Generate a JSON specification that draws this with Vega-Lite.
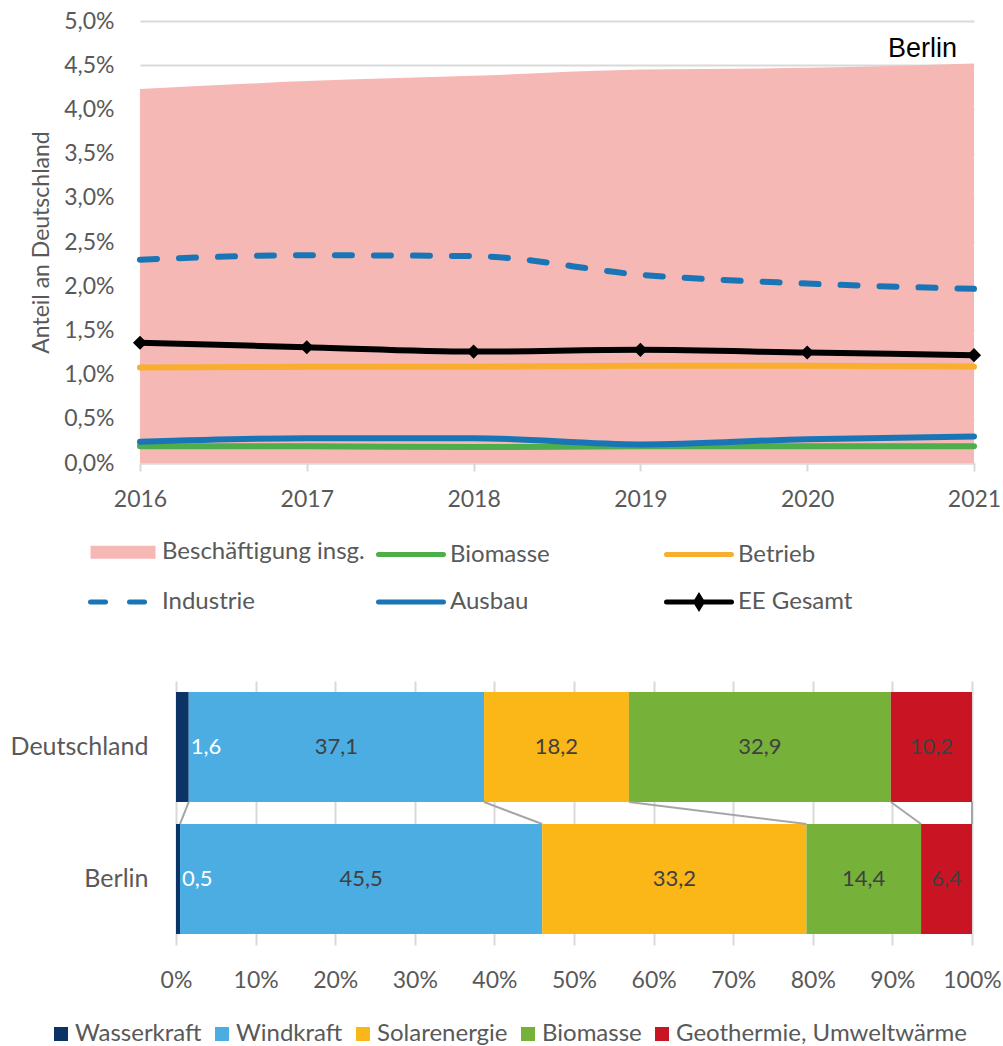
{
  "$schema": "https://vega.github.io/schema/vega-lite/v6.json",
  "background": "white",
  "padding": {"left": 10, "top": 10, "right": 0, "bottom": 0},
  "spacing": 63,
  "resolve": {"scale": {"color": "independent", "opacity": "independent"}, "legend": {"color": "independent", "opacity": "independent"}},
  "config": {
    "locale": {"number": {"decimal": ",", "thousands": ".", "grouping": [3], "currency": ["", " €"]}},
    "font": "Lato",
    "view": {"stroke": null},
    "axis": {"labelFont": "Lato", "titleFont": "Lato", "labelColor": "#595959", "titleColor": "#595959", "titleFontWeight": "normal"},
    "legend": {"labelFont": "Lato", "labelColor": "#595959", "labelFontSize": 24}
  },
  "vconcat": [
    {
      "width": 834,
      "height": 442,
      "data": {"values": [
        {"year": 2016, "series": "Beschäftigung insg.", "value": 0.0423},
        {"year": 2017, "series": "Beschäftigung insg.", "value": 0.0432},
        {"year": 2018, "series": "Beschäftigung insg.", "value": 0.0438},
        {"year": 2019, "series": "Beschäftigung insg.", "value": 0.0445},
        {"year": 2020, "series": "Beschäftigung insg.", "value": 0.0447},
        {"year": 2021, "series": "Beschäftigung insg.", "value": 0.0452},
        {"year": 2016, "series": "Biomasse", "value": 0.0019},
        {"year": 2017, "series": "Biomasse", "value": 0.0019},
        {"year": 2018, "series": "Biomasse", "value": 0.0018},
        {"year": 2019, "series": "Biomasse", "value": 0.0019},
        {"year": 2020, "series": "Biomasse", "value": 0.0019},
        {"year": 2021, "series": "Biomasse", "value": 0.0019},
        {"year": 2016, "series": "Ausbau", "value": 0.0024},
        {"year": 2017, "series": "Ausbau", "value": 0.0028},
        {"year": 2018, "series": "Ausbau", "value": 0.0028},
        {"year": 2019, "series": "Ausbau", "value": 0.0021},
        {"year": 2020, "series": "Ausbau", "value": 0.0027},
        {"year": 2021, "series": "Ausbau", "value": 0.0030},
        {"year": 2016, "series": "Betrieb", "value": 0.0108},
        {"year": 2017, "series": "Betrieb", "value": 0.0109},
        {"year": 2018, "series": "Betrieb", "value": 0.0109},
        {"year": 2019, "series": "Betrieb", "value": 0.0110},
        {"year": 2020, "series": "Betrieb", "value": 0.0110},
        {"year": 2021, "series": "Betrieb", "value": 0.0109},
        {"year": 2016, "series": "Industrie", "value": 0.0230},
        {"year": 2017, "series": "Industrie", "value": 0.0235},
        {"year": 2018, "series": "Industrie", "value": 0.0234},
        {"year": 2019, "series": "Industrie", "value": 0.0213},
        {"year": 2020, "series": "Industrie", "value": 0.0203},
        {"year": 2021, "series": "Industrie", "value": 0.0197},
        {"year": 2016, "series": "EE Gesamt", "value": 0.0136},
        {"year": 2017, "series": "EE Gesamt", "value": 0.0131},
        {"year": 2018, "series": "EE Gesamt", "value": 0.0126},
        {"year": 2019, "series": "EE Gesamt", "value": 0.0128},
        {"year": 2020, "series": "EE Gesamt", "value": 0.0125},
        {"year": 2021, "series": "EE Gesamt", "value": 0.0122}
      ]},
      "encoding": {
        "x": {"field": "year", "type": "quantitative", "scale": {"domain": [2016, 2021], "nice": false, "zero": false},
              "axis": {"values": [2016, 2017, 2018, 2019, 2020, 2021], "format": "d", "grid": false, "domainColor": "#D9D9D9", "domainWidth": 2, "tickColor": "#D9D9D9", "tickWidth": 2, "tickSize": 8, "labelFontSize": 23, "labelPadding": 17, "labelFlush": false, "labelOverlap": false, "title": null}},
        "y": {"field": "value", "type": "quantitative", "scale": {"domain": [0, 0.05], "nice": false},
              "axis": {"values": [0, 0.005, 0.01, 0.015, 0.02, 0.025, 0.03, 0.035, 0.04, 0.045, 0.05], "format": ".1%", "grid": true, "gridColor": "#D9D9D9", "gridWidth": 2, "domain": false, "ticks": false, "labelFontSize": 23, "labelPadding": 26, "labelOverlap": false, "labelFlush": false, "title": "Anteil an Deutschland", "titleFontSize": 23, "titlePadding": 10}}
      },
      "layer": [
        {
          "transform": [{"filter": "datum.series === 'Beschäftigung insg.'"}],
          "mark": {"type": "area", "interpolate": "monotone", "opacity": 1},
          "encoding": {
            "color": {"field": "series", "type": "nominal",
              "scale": {"domain": ["Beschäftigung insg.", "Biomasse", "Betrieb", "Industrie", "Ausbau", "EE Gesamt"], "range": ["#F5B8B5", "#4DAE4A", "#F9AE2F", "#1A75B6", "#1A75B6", "#000000"]},
              "legend": null}
          }
        },
        {
          "transform": [{"filter": "datum.series !== 'Beschäftigung insg.' && datum.series !== 'Industrie'"}],
          "mark": {"type": "line", "interpolate": "monotone", "strokeWidth": 6, "strokeCap": "round"},
          "encoding": {
            "color": {"field": "series", "type": "nominal",
              "scale": {"domain": ["Beschäftigung insg.", "Biomasse", "Betrieb", "Industrie", "Ausbau", "EE Gesamt"], "range": ["#F5B8B5", "#4DAE4A", "#F9AE2F", "#1A75B6", "#1A75B6", "#000000"]},
              "legend": null},
            "opacity": {"field": "series", "type": "nominal",
              "scale": {"domain": ["Beschäftigung insg.", "Industrie", "Biomasse", "Ausbau", "Betrieb", "EE Gesamt"], "range": [1, 1, 1, 1, 1, 1]},
              "legend": {
                "orient": "none", "legendX": -36, "legendY": 512, "title": null, "columns": 3, "direction": "vertical", "gridAlign": "all",
                "columnPadding": 3, "rowPadding": 14, "symbolSize": 1056, "symbolType": "M-2,0H2", "symbolStrokeWidth": 5, "labelOffset": 20, "labelFontSize": 24, "padding": 0, "labelLimit": 400,
                "encode": {"symbols": {"update": {
                  "shape": {"signal": "datum.value === 'Beschäftigung insg.' ? 'M-2,-0.4H2V0.4H-2Z' : datum.value === 'EE Gesamt' ? 'M-2,0H2M-0.2,0L0,-0.32L0.2,0L0,0.32Z' : 'M-2,0H2'"},
                  "fill": {"signal": "datum.value === 'Beschäftigung insg.' ? '#F5B8B5' : datum.value === 'EE Gesamt' ? '#000000' : 'transparent'"},
                  "stroke": {"signal": "datum.value === 'Beschäftigung insg.' ? 'transparent' : datum.value === 'Biomasse' ? '#4DAE4A' : datum.value === 'Betrieb' ? '#F9AE2F' : datum.value === 'EE Gesamt' ? '#000000' : '#1A75B6'"},
                  "strokeWidth": {"value": 5},
                  "strokeDash": {"signal": "datum.value === 'Industrie' ? [15, 24] : [1, 0]"},
                  "strokeCap": {"value": "round"}
                }}}
              }}
          }
        },
        {
          "transform": [{"filter": "datum.series === 'Industrie'"}],
          "mark": {"type": "line", "interpolate": "monotone", "strokeWidth": 6, "strokeCap": "round", "strokeDash": [17, 22]},
          "encoding": {
            "color": {"field": "series", "type": "nominal",
              "scale": {"domain": ["Beschäftigung insg.", "Biomasse", "Betrieb", "Industrie", "Ausbau", "EE Gesamt"], "range": ["#F5B8B5", "#4DAE4A", "#F9AE2F", "#1A75B6", "#1A75B6", "#000000"]},
              "legend": null}
          }
        },
        {
          "transform": [{"filter": "datum.series === 'EE Gesamt'"}],
          "mark": {"type": "point", "shape": "diamond", "filled": true, "size": 200, "opacity": 1, "color": "#000000"}
        },
        {
          "transform": [{"filter": "datum.series === 'Beschäftigung insg.' && datum.year === 2021"}],
          "mark": {"type": "text", "font": "Liberation Sans", "fontSize": 27, "color": "#000000", "align": "right", "baseline": "middle", "dx": -17},
          "encoding": {
            "y": {"datum": 0.0468, "type": "quantitative"},
            "text": {"value": "Berlin"}
          }
        }
      ]
    },
    {
      "width": 832,
      "height": 264,
      "data": {"values": [
        {"country": "Deutschland", "source": "Wasserkraft", "rank": 1, "value": 1.6},
        {"country": "Deutschland", "source": "Windkraft", "rank": 2, "value": 37.1},
        {"country": "Deutschland", "source": "Solarenergie", "rank": 3, "value": 18.2},
        {"country": "Deutschland", "source": "Biomasse", "rank": 4, "value": 32.9},
        {"country": "Deutschland", "source": "Geothermie, Umweltwärme", "rank": 5, "value": 10.2},
        {"country": "Berlin", "source": "Wasserkraft", "rank": 1, "value": 0.5},
        {"country": "Berlin", "source": "Windkraft", "rank": 2, "value": 45.5},
        {"country": "Berlin", "source": "Solarenergie", "rank": 3, "value": 33.2},
        {"country": "Berlin", "source": "Biomasse", "rank": 4, "value": 14.4},
        {"country": "Berlin", "source": "Geothermie, Umweltwärme", "rank": 5, "value": 6.4}
      ]},
      "layer": [
        {
          "mark": {"type": "bar"},
          "encoding": {
            "y": {"field": "country", "type": "nominal", "sort": ["Deutschland", "Berlin"], "scale": {"paddingInner": 0.1667, "paddingOuter": 0.083},
                  "axis": {"title": null, "domain": false, "ticks": false, "labelFontSize": 25, "labelPadding": 28, "offset": -36}},
            "x": {"field": "value", "type": "quantitative", "stack": "zero", "scale": {"domain": [0, 100], "nice": false, "range": [36, 832]},
                  "axis": {"values": [0, 10, 20, 30, 40, 50, 60, 70, 80, 90, 100], "labelExpr": "datum.value + '%'", "grid": true, "gridColor": "#D9D9D9", "gridWidth": 2, "domain": false, "ticks": false, "labelFontSize": 23, "labelPadding": 24, "labelFlush": false, "labelOverlap": false, "title": null}},
            "color": {"field": "source", "type": "nominal",
              "scale": {"domain": ["Wasserkraft", "Windkraft", "Solarenergie", "Biomasse", "Geothermie, Umweltwärme"], "range": ["#0B3366", "#4BADE2", "#FBB617", "#76B13A", "#C91423"]},
              "legend": {"orient": "none", "legendX": -91, "legendY": 341, "direction": "horizontal", "title": null, "symbolType": "square", "symbolSize": 196, "symbolStrokeWidth": 0, "symbolOpacity": 1, "labelOffset": 2, "columnPadding": 8, "labelFontSize": 24, "padding": 0, "labelLimit": 400}},
            "order": {"field": "rank", "type": "quantitative"}
          }
        },
        {
          "data": {"values": [
            {"de": 1.6, "be": 0.5},
            {"de": 38.7, "be": 46.0},
            {"de": 56.9, "be": 79.2},
            {"de": 89.8, "be": 93.6},
            {"de": 100, "be": 100}
          ]},
          "mark": {"type": "rule", "color": "#A6A6A6", "strokeWidth": 2},
          "encoding": {
            "x": {"field": "de", "type": "quantitative"},
            "x2": {"field": "be"},
            "y": {"datum": "Deutschland", "type": "nominal", "bandPosition": 1},
            "y2": {"datum": "Berlin", "bandPosition": 0}
          }
        },
        {
          "mark": {"type": "text", "fontSize": 22, "color": "#404040", "baseline": "middle"},
          "encoding": {
            "y": {"field": "country", "type": "nominal", "sort": ["Deutschland", "Berlin"]},
            "x": {"field": "value", "type": "quantitative", "stack": "zero", "bandPosition": 0.5},
            "detail": {"field": "source"},
            "order": {"field": "rank", "type": "quantitative"},
            "text": {"field": "value", "type": "quantitative", "format": ".1f"},
            "opacity": {"condition": {"test": "datum.source === 'Wasserkraft'", "value": 0}, "value": 1}
          }
        },
        {
          "transform": [{"filter": "datum.source === 'Wasserkraft'"}],
          "mark": {"type": "text", "fontSize": 22, "color": "#FFFFFF", "align": "left", "baseline": "middle", "dx": 2},
          "encoding": {
            "y": {"field": "country", "type": "nominal", "sort": ["Deutschland", "Berlin"]},
            "x": {"field": "value", "type": "quantitative"},
            "text": {"field": "value", "type": "quantitative", "format": ".1f"}
          }
        }
      ]
    }
  ]
}
